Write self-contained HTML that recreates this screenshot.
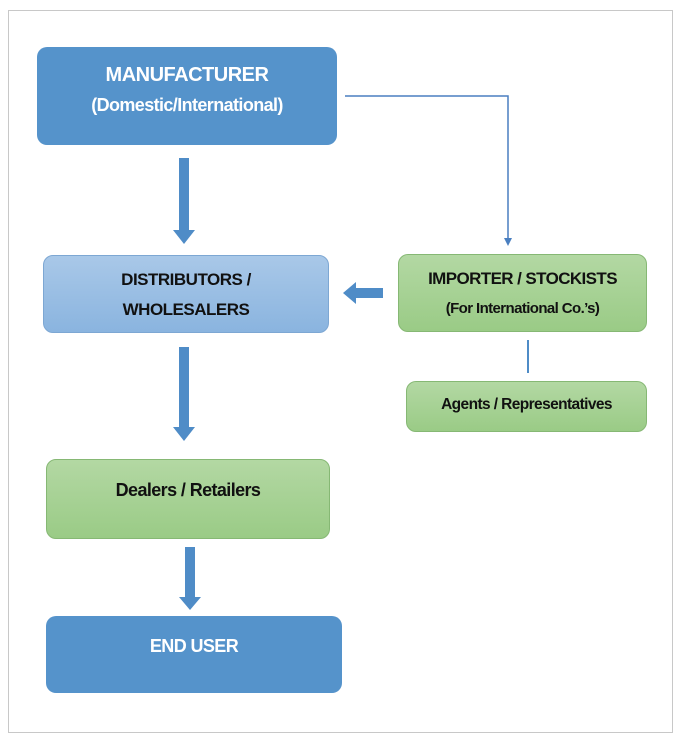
<!DOCTYPE html>
<html><head><style>
html,body{margin:0;padding:0;background:#fff;width:681px;height:740px;overflow:hidden}
.f{position:absolute;left:8px;top:10px;width:663px;height:721px;border:1px solid #c8c8c8}
.b{position:absolute;box-sizing:border-box;border-radius:10px;display:flex;flex-direction:column;align-items:center;font-family:"Liberation Sans",sans-serif;font-weight:bold;text-align:center;white-space:nowrap}
.blue{background:#5593cb;color:#fff}
.lb{background:linear-gradient(#a9c8e8,#8ab4df);border:1px solid #7da7d3;color:#111}
.g{background:linear-gradient(#b3d8a3,#9acb86);border:1px solid #86b874;color:#111}
</style></head><body>
<div class="f"></div>
<div class="b blue" style="left:37px;top:47px;width:300px;height:98px;padding-top:13px;font-size:20px;line-height:30px;letter-spacing:-0.5px">MANUFACTURER<br><span style="font-size:18px;letter-spacing:-0.6px">(Domestic/International)</span></div>
<div class="b lb" style="left:43px;top:255px;width:286px;height:78px;padding-top:9px;font-size:17px;line-height:30px;letter-spacing:-0.5px">DISTRIBUTORS /<br>WHOLESALERS</div>
<div class="b g" style="left:398px;top:254px;width:249px;height:78px;padding-top:9px;font-size:17px;line-height:30px;letter-spacing:-0.6px">IMPORTER / STOCKISTS<br><span style="font-size:15px;letter-spacing:-0.6px">(For International Co.’s)</span></div>
<div class="b g" style="left:406px;top:381px;width:241px;height:51px;padding-top:14px;font-size:15.5px;letter-spacing:-0.6px">Agents / Representatives</div>
<div class="b g" style="left:46px;top:459px;width:284px;height:80px;padding-top:20px;font-size:18px;letter-spacing:-0.6px">Dealers / Retailers</div>
<div class="b blue" style="left:46px;top:616px;width:296px;height:77px;padding-top:20px;font-size:18px;letter-spacing:-0.6px">END USER</div>
<svg width="681" height="740" style="position:absolute;left:0;top:0">
<g fill="#4f8cc7">
<rect x="179" y="158" width="10" height="72"/><polygon points="173,230 195,230 184,244"/>
<rect x="179" y="347" width="10" height="80"/><polygon points="173,427 195,427 184,441"/>
<rect x="185" y="547" width="10" height="51"/><polygon points="179,597 201,597 190,610"/>
<rect x="355" y="288" width="28" height="10"/><polygon points="356,282 356,304 343,293"/>
</g>
<polyline points="345,96 508,96 508,240" fill="none" stroke="#4a7fc0" stroke-width="1.5"/>
<polygon points="504,238 512,238 508,246" fill="#4a7fc0"/>
<line x1="528" y1="340" x2="528" y2="373" stroke="#4f8cc7" stroke-width="2"/>
</svg>
</body></html>
